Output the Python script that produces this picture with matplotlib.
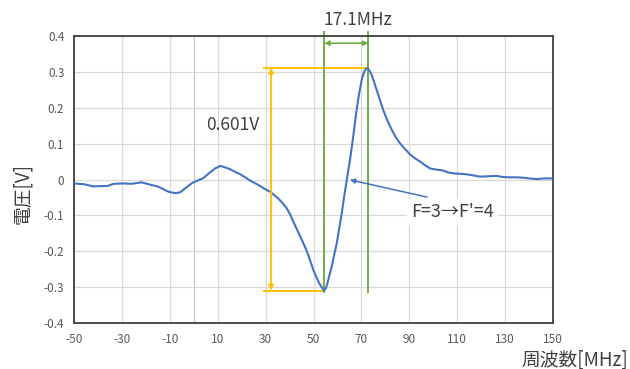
import matplotlib
matplotlib.use("Agg")
import matplotlib.pyplot as plt

plt.rcParams["font.family"] = ["Noto Sans CJK JP", "DejaVu Sans"]
plt.rcParams["axes.unicode_minus"] = False

BLUE = "#4472C4"
YELLOW = "#FFC000"
GREEN = "#70AD47"
GRID = "#D9D9D9"
INK = "#404040"
TICK = "#595959"

# spectrum (MHz, V)
freq = [-50, -46, -42, -36, -33.5, -29.5, -26, -21.7, -19, -14.8,
        -10.6, -7.8, -5.7, -2.9, -0.5, 2, 4, 6.8, 9, 11,
        13, 15.1, 17, 19.3, 21.5, 23.5, 25.5, 27.7, 29.5, 31.8,
        33.5, 35.3, 37, 38.8, 40.3, 41.6, 43, 44.4, 45.8, 47.2,
        48.6, 49.9, 51.3, 52.7, 53.6, 54.3, 55.0, 55.7, 56.6, 57.6,
        58.6, 59.7, 60.7, 61.8, 62.8, 63.9, 65, 66, 67, 68,
        69, 70.1, 71, 71.8, 72.6, 73.4, 74.3, 75.3, 76.4, 77.7,
        79.1, 80.8, 82.7, 84.3, 86.1, 88.2, 90.3, 92.4, 94.5, 96.5,
        98.6, 101, 104.2, 106, 108.4, 111, 114, 117, 119.5, 123,
        126.5, 129, 132, 135, 137.6, 140, 143.2, 146, 149.5]
volt = [-0.011, -0.013, -0.019, -0.018, -0.012, -0.011, -0.012, -0.008, -0.013, -0.020,
        -0.034, -0.038, -0.036, -0.021, -0.009, -0.002, 0.004, 0.020, 0.031, 0.038,
        0.034, 0.029, 0.022, 0.015, 0.006, -0.003, -0.010, -0.018, -0.026, -0.034,
        -0.043, -0.053, -0.065, -0.080, -0.098, -0.118, -0.138, -0.158, -0.178, -0.200,
        -0.226, -0.252, -0.274, -0.293, -0.302, -0.309, -0.306, -0.292, -0.268, -0.243,
        -0.211, -0.178, -0.137, -0.094, -0.047, -0.001, 0.045, 0.091, 0.142, 0.194,
        0.238, 0.277, 0.298, 0.308, 0.310, 0.303, 0.291, 0.272, 0.249, 0.222,
        0.194, 0.165, 0.138, 0.118, 0.101, 0.085, 0.070, 0.059, 0.050, 0.040,
        0.031, 0.028, 0.025, 0.020, 0.017, 0.016, 0.0145, 0.011, 0.008, 0.009,
        0.010, 0.007, 0.006, 0.006, 0.005, 0.003, 0.001, 0.003, 0.003]

x_ticks = [-50, -30, -10, 10, 30, 50, 70, 90, 110, 130, 150]
y_ticks = [-0.4, -0.3, -0.2, -0.1, 0, 0.1, 0.2, 0.3, 0.4]
y_tick_labels = ["-0.4", "-0.3", "-0.2", "-0.1", "0", "0.1", "0.2", "0.3", "0.4"]

# annotation levels
peak_v, trough_v = 0.312, -0.31
trough_f, peak_f = 54.5, 72.9
amp_f = 32.3


def main():
    fig = plt.figure(figsize=(6.3, 3.69), dpi=100)
    ax = fig.add_axes([0.1175, 0.1247, 0.7603, 0.7777])
    ax.set_xlim(-50, 150)
    ax.set_ylim(-0.4, 0.4)
    ax.set_xticks(x_ticks)
    ax.set_yticks(y_ticks)
    ax.set_yticklabels(y_tick_labels)
    ax.tick_params(length=0, labelsize=8.5, labelcolor=TICK, pad=7)
    ax.grid(True, color=GRID, lw=0.9)
    ax.axvline(0, color="#C8C8C8", lw=0.9, zorder=0.5)
    ax.set_axisbelow(True)
    for s in ax.spines.values():
        s.set_color(INK)
        s.set_linewidth(1.3)

    ax.plot(freq, volt, color=BLUE, lw=1.5, zorder=3)

    # amplitude (yellow)
    ax.plot([29.3, peak_f], [peak_v, peak_v], color=YELLOW, lw=1.4, zorder=2)
    ax.plot([29.3, trough_f], [trough_v, trough_v], color=YELLOW, lw=1.4, zorder=2)
    ax.annotate("", xy=(amp_f, peak_v), xytext=(amp_f, trough_v),
                arrowprops=dict(arrowstyle="<|-|>", color=YELLOW, lw=1.4,
                                mutation_scale=7, shrinkA=0, shrinkB=0))
    ax.text(16.4, 0.152, "0.601V", fontsize=12.5, color=INK, ha="center", va="center")

    # peak separation (green)
    for f in (trough_f, peak_f):
        ax.plot([f, f], [0.412, -0.314], color=GREEN, lw=1.4, clip_on=False, zorder=2)
    ax.annotate("", xy=(trough_f, 0.38), xytext=(peak_f, 0.38),
                arrowprops=dict(arrowstyle="<|-|>", color=GREEN, lw=1.2,
                                mutation_scale=7, shrinkA=0, shrinkB=0))
    ax.text(68.6, 0.445, "17.1MHz", fontsize=12.5, color=INK, ha="center",
            va="center", clip_on=False)

    # transition label
    ax.text(108.2, -0.09, "F=3→F'=4", fontsize=13, color=INK, ha="center", va="center",
            bbox=dict(fc="white", ec="none", pad=3), zorder=4)
    ax.annotate("", xy=(65.2, -0.001), xytext=(97.4, -0.049),
                arrowprops=dict(arrowstyle="-|>", color=BLUE, lw=1.1,
                                mutation_scale=7, shrinkA=0, shrinkB=0), zorder=4)

    fig.text(0.036, 0.475, "電圧[V]", fontsize=13.5, color=INK, rotation=90,
             ha="center", va="center")
    fig.text(0.997, 0.025, "周波数[MHz]", fontsize=13.5, color=INK,
             ha="right", va="center")

    fig.savefig("out.png", dpi=100)
    plt.close(fig)


if __name__ == "__main__":
    main()
